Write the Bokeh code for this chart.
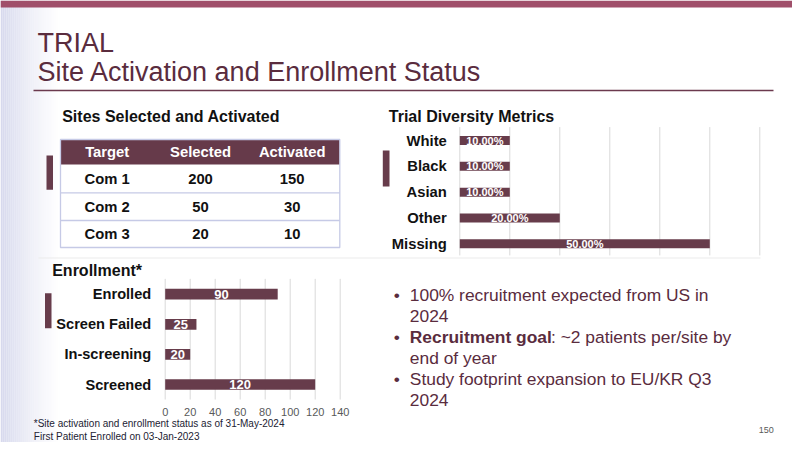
from bokeh.plotting import figure
from bokeh.models import Range1d
from bokeh.core.properties import value
from bokeh.embed import file_html
from bokeh.resources import INLINE

# ---------------- data ----------------
title_lines = ["TRIAL", "Site Activation and Enrollment Status"]

table_header = ["Target", "Selected", "Activated"]
targets = ["Com 1", "Com 2", "Com 3"]
selected = [200, 50, 20]
activated = [150, 30, 10]

div_cats = ["White", "Black", "Asian", "Other", "Missing"]
div_vals = [10, 10, 10, 20, 50]
div_ticks = [0, 10, 20, 30, 40, 50, 60]

enr_cats = ["Enrolled", "Screen Failed", "In-screening", "Screened"]
enr_vals = [90, 25, 20, 120]
enr_ticks = [0, 20, 40, 60, 80, 100, 120, 140]

bullets = [
    ["100% recruitment expected from US in", "2024"],
    ["Recruitment goal", ": ~2 patients per/site by", "end of year"],
    ["Study footprint expansion to EU/KR Q3", "2024"],
]
footnotes = ["*Site activation and enrollment status as of 31-May-2024",
             "First Patient Enrolled on 03-Jan-2023"]
page_no = "150"

# ---------------- style ----------------
MAROON = "#673c4b"
TXT = "#5a2c3e"
GRID = "#d9d9d9"
SANS = value("Liberation Sans")
NARROW = value("'Liberation Sans Narrow', 'Arial Narrow', 'Liberation Sans', sans-serif")

FX0, FX1, FY0, FY1 = 0, 792, 0, 442  # slide pixels covered by the frame


def lin_range(p0, v0, p1, v1, lo, hi):
    s = (v1 - v0) / (p1 - p0)
    return Range1d(start=v0 + (lo - p0) * s, end=v0 + (hi - p0) * s)


p = figure(width=FX1 - FX0, height=FY1 - FY0, x_range=Range1d(FX0, FX1), y_range=Range1d(FY1, FY0),
           output_backend="svg", toolbar_location=None, min_border=0,
           min_border_left=0, min_border_right=0, min_border_top=0, min_border_bottom=0)
p.axis.visible = False
p.grid.visible = False
p.outline_line_color = None
p.background_fill_color = "white"
p.border_fill_color = "white"

p.extra_x_ranges = {
    "div": lin_range(459.3, 0, 759.3, 60, FX0, FX1),
    "enr": lin_range(164.7, 0, 339.7, 140, FX0, FX1),
}
p.extra_y_ranges = {
    "divy": lin_range(140, 0, 243.3, 4, FY1, FY0),
    "enry": lin_range(293.7, 0, 384, 3, FY1, FY0),
}

# ---------------- background decoration ----------------
n_strips = 30
for i in range(n_strips):
    x0 = FX0 + i * 2
    p.quad(left=x0, right=x0 + 2, top=FY0, bottom=FY1, fill_color="#d3d5eb",
           fill_alpha=0.9 * (1 - i / n_strips) ** 1.3, line_color=None)
p.quad(left=FX0, right=FX1, top=FY0, bottom=FY0 + 7, fill_color="#a04f6a", line_color=None)

# title
p.text(x=[37, 37], y=[42.6, 71.4], text=title_lines, text_font=NARROW,
       text_font_size="27px", text_color=TXT, text_baseline="middle")
p.segment(x0=[33], y0=[90], x1=[773], y1=[90], line_color="#6b3a4e", line_width=1.3)

# panel separator
p.segment(x0=[38], y0=[257.5], x1=[760], y1=[257.5], line_color="#ebebeb", line_width=1)

# accent bars
p.quad(left=[46, 382.3, 44.5], right=[52.5, 389, 51], top=[155, 150, 292.7],
       bottom=[189.3, 186, 327.7], fill_color=MAROON, line_color=None)

# section titles
p.text(x=[61.7, 388.3, 51.7], y=[116, 115.7, 270],
       text=["Sites Selected and Activated", "Trial Diversity Metrics", "Enrollment*"],
       text_font=SANS, text_font_style="bold", text_font_size="16px",
       text_color="#111111", text_baseline="middle")

# ---------------- table ----------------
col_x = [106.7, 200, 291.7]
row_edges = [139, 164, 192.3, 220, 247]
p.quad(left=[60], right=[339.3], top=[row_edges[0]], bottom=[row_edges[1]],
       fill_color="#663a4a", line_color=None)
p.quad(left=[60], right=[339.3], top=[row_edges[0]], bottom=[row_edges[-1]],
       fill_color=None, line_color="#c6cae6", line_width=1.3)
p.segment(x0=[60] * 2, x1=[339.3] * 2, y0=row_edges[2:4], y1=row_edges[2:4],
          line_color="#c6cae6", line_width=1.3)
hdr_y = (row_edges[0] + row_edges[1]) / 2
p.text(x=col_x, y=[hdr_y] * 3, text=table_header, text_font=SANS, text_font_style="bold",
       text_font_size="14.8px", text_color="white", text_align="center", text_baseline="middle")
for r, row in enumerate(zip(targets, selected, activated)):
    yc = (row_edges[r + 1] + row_edges[r + 2]) / 2
    p.text(x=col_x, y=[yc] * 3, text=[str(v) for v in row], text_font=SANS,
           text_font_style="bold", text_font_size="14.8px", text_color="#111111",
           text_align="center", text_baseline="middle")

# ---------------- diversity chart ----------------
div_idx = list(range(len(div_cats)))
p.segment(x0=div_ticks, x1=div_ticks, y0=[-0.52] * len(div_ticks), y1=[4.45] * len(div_ticks),
          line_color=GRID, line_width=1, x_range_name="div", y_range_name="divy")
p.hbar(y=div_idx, left=0, right=div_vals, height=0.35, fill_color=MAROON, line_color=None,
       x_range_name="div", y_range_name="divy")
p.text(x=[v / 2 for v in div_vals], y=div_idx, text=[f"{v:.2f}%" for v in div_vals],
       text_font=SANS, text_font_style="bold", text_font_size="11px", text_color="white",
       text_align="center", text_baseline="middle", x_range_name="div", y_range_name="divy")
p.text(x=[0] * len(div_cats), y=div_idx, text=div_cats, x_offset=-13, text_font=SANS,
       text_font_style="bold", text_font_size="14.8px", text_color="#111111",
       text_align="right", text_baseline="middle", x_range_name="div", y_range_name="divy")

# ---------------- enrollment chart ----------------
enr_idx = list(range(len(enr_cats)))
p.segment(x0=enr_ticks, x1=enr_ticks, y0=[-0.51] * len(enr_ticks), y1=[3.5] * len(enr_ticks),
          line_color=GRID, line_width=1, x_range_name="enr", y_range_name="enry")
p.hbar(y=enr_idx, left=0, right=enr_vals, height=0.355, fill_color=MAROON, line_color=None,
       x_range_name="enr", y_range_name="enry")
p.text(x=[v / 2 for v in enr_vals], y=enr_idx, text=[str(v) for v in enr_vals],
       text_font=SANS, text_font_style="bold", text_font_size="13px", text_color="white",
       text_align="center", text_baseline="middle", x_range_name="enr", y_range_name="enry")
p.text(x=[0] * len(enr_cats), y=enr_idx, text=enr_cats, x_offset=-14, text_font=SANS,
       text_font_style="bold", text_font_size="14.6px", text_color="#111111",
       text_align="right", text_baseline="middle", x_range_name="enr", y_range_name="enry")
p.text(x=enr_ticks, y=[3.5] * len(enr_ticks), text=[str(t) for t in enr_ticks], y_offset=12,
       text_font=SANS, text_font_size="11px", text_color="#595959", text_align="center",
       text_baseline="middle", x_range_name="enr", y_range_name="enry")

# footnotes
p.text(x=[33.3, 33.3], y=[423.3, 436], text=footnotes, text_font=SANS, text_font_size="10px",
       text_color="#222233", text_baseline="middle")

# ---------------- bullets ----------------
BX, TX = 393.3, 409.3
line_y = [294.3, 315, 336.7, 357.3, 378.3, 399]
FS = "17.4px"
p.text(x=[BX] * 3, y=[line_y[0], line_y[2], line_y[4]], text=["\u2022"] * 3, text_font=SANS,
       text_font_size=FS, text_color=TXT, text_baseline="middle")
p.text(x=[TX, TX, TX, TX, TX], y=[line_y[0], line_y[1], line_y[3], line_y[4], line_y[5]],
       text=[bullets[0][0], bullets[0][1], bullets[1][2], bullets[2][0], bullets[2][1]],
       text_font=SANS, text_font_size=FS, text_color=TXT, text_baseline="middle")
p.text(x=[TX], y=[line_y[2]], text=[bullets[1][0]], text_font=SANS, text_font_style="bold",
       text_font_size=FS, text_color=TXT, text_baseline="middle")
p.text(x=[550.5], y=[line_y[2]], text=[bullets[1][1]], text_font=SANS,
       text_font_size=FS, text_color=TXT, text_baseline="middle")

p.text(x=[765.7], y=[429.3], text=[page_no], text_font=SANS, text_font_size="9px",
       text_color="#595959", text_align="center", text_baseline="middle")

open("out.html", "w").write(file_html(p, INLINE))
